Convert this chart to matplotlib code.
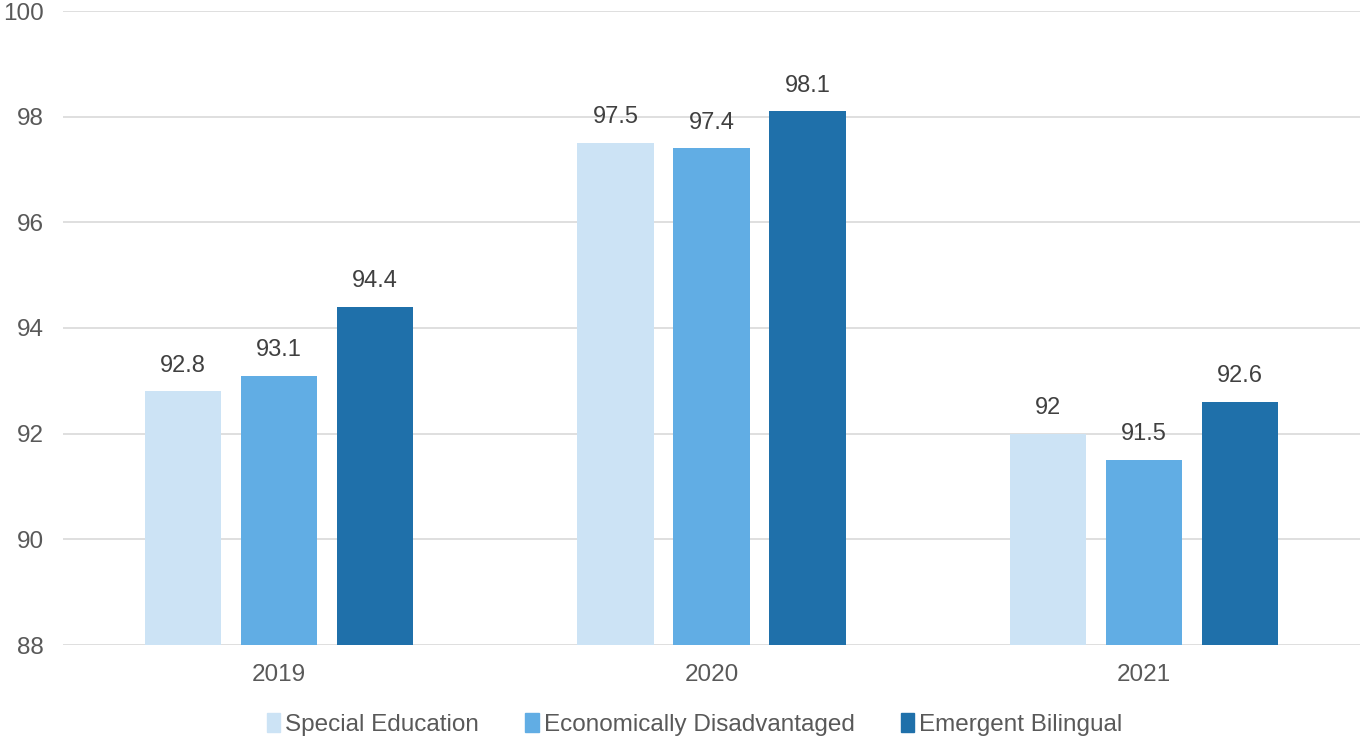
import numpy as np
from matplotlib import pyplot as plt
from matplotlib.patches import Patch

years = ["2019", "2020", "2021"]
series_names = ["Special Education", "Economically Disadvantaged", "Emergent Bilingual"]
special_ed = [92.8, 97.5, 92.0]
econ_disadv = [93.1, 97.4, 91.5]
emergent_bil = [94.4, 98.1, 92.6]
colors = ["#CCE3F5", "#61ADE4", "#1F70AA"]

plt.rcParams['font.family'] = ['Liberation Sans', 'DejaVu Sans']

fig = plt.figure(figsize=(13.6, 7.38), dpi=100)
ax = fig.add_axes([63 / 1360, 1 - 645 / 738, 1297 / 1360, 634 / 738])

x = np.arange(len(years))
width = 0.176
offset = 0.222
for i, (vals, name) in enumerate(zip([special_ed, econ_disadv, emergent_bil], series_names)):
    pos = x + (i - 1) * offset
    ax.bar(pos, np.array(vals) - 88, width, bottom=88, color=colors[i], label=name, zorder=2)
    for p, v in zip(pos, vals):
        ax.text(p, v + 0.28, f"{v:g}", ha='center', va='bottom', fontsize=17, color='#404040')

ax.set_ylim(88, 100)
ax.set_xlim(-0.5, 2.5)
ax.set_yticks(np.arange(88, 101, 2))
ax.set_xticks(x)
ax.set_xticklabels(years)
ax.grid(axis='y', color='#D9D9D9', linewidth=1.2, zorder=0)
for s in ax.spines.values():
    s.set_visible(False)
ax.tick_params(length=0, labelsize=17.5, labelcolor='#595959')
ax.tick_params(axis='y', pad=14)
ax.tick_params(axis='x', pad=14)

handles = [Patch(color=c) for c in colors]
ax.legend(handles, series_names, loc='center', bbox_to_anchor=(0.487, -0.125), ncol=3,
          frameon=False, fontsize=17.5, labelcolor='#595959', handlelength=0.55, handleheight=0.85,
          handletextpad=0.2, columnspacing=1.9)

fig.savefig("out.png", dpi=100)
